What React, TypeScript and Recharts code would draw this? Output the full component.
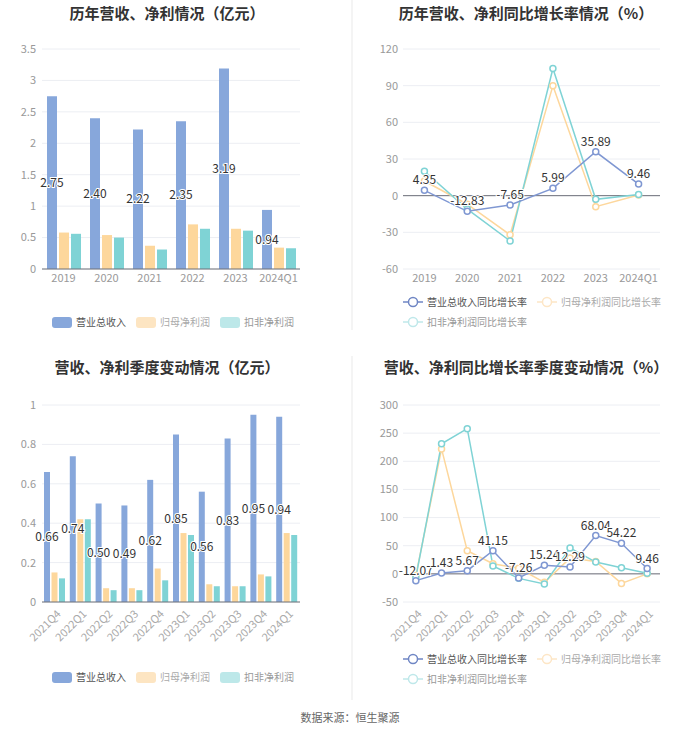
import React from "react";
import {
  BarChart,
  Bar,
  LineChart,
  Line,
  XAxis,
  YAxis,
  CartesianGrid,
  ReferenceLine,
  LabelList,
} from "recharts";

// annual figures (亿元 / %)
const years = ["2019", "2020", "2021", "2022", "2023", "2024Q1"];
const yearRevenue = [2.75, 2.4, 2.22, 2.35, 3.19, 0.94];
const yearNetProfit = [0.58, 0.54, 0.37, 0.71, 0.64, 0.34];
const yearDeducted = [0.56, 0.5, 0.31, 0.64, 0.61, 0.33];
const yearRevenueGrowth = [4.35, -12.83, -7.65, 5.99, 35.89, 9.46];
const yearNetProfitGrowth = [12, -7, -32, 90, -9, 0.5];
const yearDeductedGrowth = [20, -11, -37, 104, -3, 1];

// quarterly figures
const quarters = ["2021Q4", "2022Q1", "2022Q2", "2022Q3", "2022Q4", "2023Q1", "2023Q2", "2023Q3", "2023Q4", "2024Q1"];
const qRevenue = [0.66, 0.74, 0.5, 0.49, 0.62, 0.85, 0.56, 0.83, 0.95, 0.94];
const qNetProfit = [0.15, 0.42, 0.07, 0.07, 0.17, 0.35, 0.09, 0.08, 0.14, 0.35];
const qDeducted = [0.12, 0.42, 0.06, 0.06, 0.11, 0.34, 0.08, 0.08, 0.13, 0.34];
const qRevenueGrowth = [-12.07, 1.43, 5.67, 41.15, -7.26, 15.24, 12.29, 68.04, 54.22, 9.46];
const qNetProfitGrowth = [-3, 222, 41, 18, 10, -15, 28, 22, -17, 0];
const qDeductedGrowth = [-6, 231, 258, 14, -8, -18, 46, 21, 11, 1];

const yearTicks = [0, 0.5, 1, 1.5, 2, 2.5, 3, 3.5];
const yearGrowthTicks = [-60, -30, 0, 30, 60, 90, 120];
const qTicks = [0, 0.2, 0.4, 0.6, 0.8, 1];
const qGrowthTicks = [-50, 0, 50, 100, 150, 200, 250, 300];

const FONT = '"Noto Sans CJK SC", "Noto Sans", sans-serif';
const BLUE = "#87a7db";
const ORANGE = "#fdd79c";
const TEAL = "#7fd3d5";
const LINE_BLUE = "#7f97d2";
const AXIS = "#6e7079";
const TICK = { fill: "#999", fontSize: 11 };

const yearBars = years.map((name, i) => ({
  name,
  rev: yearRevenue[i],
  net: yearNetProfit[i],
  ded: yearDeducted[i],
}));
const yearLines = years.map((name, i) => ({
  name,
  rev: yearRevenueGrowth[i],
  net: yearNetProfitGrowth[i],
  ded: yearDeductedGrowth[i],
}));
const qBars = quarters.map((name, i) => ({
  name,
  rev: qRevenue[i],
  net: qNetProfit[i],
  ded: qDeducted[i],
}));
const qLines = quarters.map((name, i) => ({
  name,
  rev: qRevenueGrowth[i],
  net: qNetProfitGrowth[i],
  ded: qDeductedGrowth[i],
}));

const fmt2 = (v: any) => Number(v).toFixed(2);

const RotTick = ({ x, y, payload }: any) => (
  <g transform={`translate(${x + 4},${y + 5}) rotate(-45)`}>
    <text textAnchor="end" dy="0.35em" fill="#aaa" fontSize={11}>
      {payload.value}
    </text>
  </g>
);

const Title = ({ text, cx, cy }: { text: string; cx: number; cy: number }) => (
  <div
    style={{
      position: "absolute",
      left: cx - 175,
      top: cy - 11,
      width: 350,
      textAlign: "center",
      fontSize: 15,
      fontWeight: 700,
      color: "#333",
      lineHeight: "22px",
    }}
  >
    {text}
  </div>
);

const BarLegend = ({ left, top }: { left: number; top: number }) => {
  const items = [
    { label: "营业总收入", color: BLUE, text: "#555" },
    { label: "归母净利润", color: "#fde5c2", text: "#aaa" },
    { label: "扣非净利润", color: "#bde8e9", text: "#999" },
  ];
  return (
    <div style={{ position: "absolute", left, top, display: "flex", fontSize: 10, lineHeight: "14px" }}>
      {items.map((it) => (
        <div key={it.label} style={{ display: "flex", alignItems: "center", marginRight: 10 }}>
          <span style={{ width: 20, height: 11, borderRadius: 3, background: it.color, marginRight: 4 }} />
          <span style={{ color: it.text }}>{it.label}</span>
        </div>
      ))}
    </div>
  );
};

const LineIcon = ({ color }: { color: string }) => (
  <svg width={20} height={12} style={{ marginRight: 4 }}>
    <line x1={0} y1={6} x2={20} y2={6} stroke={color} strokeWidth={1.5} />
    <circle cx={10} cy={6} r={4.5} fill="#fff" stroke={color} strokeWidth={1.5} />
  </svg>
);

const LineLegend = ({ left, top }: { left: number; top: number }) => {
  const row = (label: string, color: string, text: string) => (
    <div style={{ display: "flex", alignItems: "center", marginRight: 10 }}>
      <LineIcon color={color} />
      <span style={{ color: text }}>{label}</span>
    </div>
  );
  return (
    <div style={{ position: "absolute", left, top, fontSize: 10, lineHeight: "14px" }}>
      <div style={{ display: "flex" }}>
        {row("营业总收入同比增长率", "#6f86c4", "#555")}
        {row("归母净利润同比增长率", "#fde6c6", "#aaa")}
      </div>
      <div style={{ display: "flex", marginTop: 6 }}>{row("扣非净利润同比增长率", "#bfe8ea", "#999")}</div>
    </div>
  );
};

const labelStyle = { paintOrder: "stroke" as any };

function GroupBars({ data, width, height, margin, ticks, domain, rotate, barSize, barGap }: any) {
  return (
    <BarChart width={width} height={height} data={data} margin={margin} barSize={barSize} barGap={barGap}>
      <CartesianGrid vertical={false} stroke="#eceef3" />
      <XAxis
        dataKey="name"
        axisLine={{ stroke: AXIS }}
        tickLine={false}
        tickSize={3}
        tickMargin={2}
        interval={0}
        height={rotate ? 55 : 30}
        tick={rotate ? <RotTick /> : TICK}
      />
      <YAxis
        domain={domain}
        ticks={ticks}
        axisLine={false}
        tickLine={false}
        tickSize={4}
        tickMargin={2}
        width={42}
        tick={TICK}
      />
      <Bar dataKey="rev" fill={BLUE} isAnimationActive={false}>
        <LabelList
          dataKey="rev"
          position="center"
          formatter={fmt2}
          fill="#333"
          fontSize={12}
          stroke="#fff"
          strokeWidth={2}
          style={labelStyle}
        />
      </Bar>
      <Bar dataKey="net" fill={ORANGE} isAnimationActive={false} />
      <Bar dataKey="ded" fill={TEAL} isAnimationActive={false} />
    </BarChart>
  );
}

function GrowthLines({ data, width, height, margin, ticks, domain, rotate }: any) {
  const dot = (c: string) => ({ r: 3, fill: "#fff", stroke: c, strokeWidth: 1.5 });
  // half a category of padding on each side, like a boundary gap
  const plotW = width - 53 - margin.right;
  const pad = plotW / (data.length * 2);
  return (
    <LineChart width={width} height={height} data={data} margin={margin}>
      <CartesianGrid vertical={false} stroke="#eceef3" />
      <XAxis
        dataKey="name"
        axisLine={false}
        tickLine={false}
        tickSize={3}
        tickMargin={2}
        interval={0}
        padding={{ left: pad, right: pad }}
        height={rotate ? 55 : 30}
        tick={rotate ? <RotTick /> : TICK}
      />
      <YAxis
        domain={domain}
        ticks={ticks}
        axisLine={false}
        tickLine={false}
        tickSize={3}
        tickMargin={2}
        width={53}
        tick={TICK}
      />
      <ReferenceLine y={0} stroke={AXIS} />
      <Line dataKey="net" stroke={ORANGE} strokeWidth={1.5} dot={dot(ORANGE)} isAnimationActive={false} />
      <Line dataKey="ded" stroke={TEAL} strokeWidth={1.5} dot={dot(TEAL)} isAnimationActive={false} />
      <Line dataKey="rev" stroke={LINE_BLUE} strokeWidth={1.5} dot={dot(LINE_BLUE)} isAnimationActive={false}>
        <LabelList
          dataKey="rev"
          position="top"
          offset={6}
          formatter={fmt2}
          fill="#333"
          fontSize={12}
          stroke="#fff"
          strokeWidth={2}
          style={labelStyle}
        />
      </Line>
    </LineChart>
  );
}

export default function App() {
  return (
    <div
      style={{
        position: "absolute",
        left: 0,
        top: 0,
        width: 700,
        height: 734,
        background: "#fff",
        fontFamily: FONT,
        overflow: "hidden",
      }}
    >
      <div style={{ position: "absolute", left: 351, top: 0, width: 2, height: 330, background: "#f4f4f4" }} />
      <div style={{ position: "absolute", left: 351, top: 356, width: 2, height: 344, background: "#f4f4f4" }} />

      <Title text="历年营收、净利情况（亿元）" cx={167} cy={13} />
      <Title text="历年营收、净利同比增长率情况（%）" cx={526} cy={13} />
      <Title text="营收、净利季度变动情况（亿元）" cx={167} cy={367} />
      <Title text="营收、净利同比增长率季度变动情况（%）" cx={526} cy={367} />

      <div style={{ position: "absolute", left: 0, top: 0 }}>
        <GroupBars
          data={yearBars}
          width={350}
          height={340}
          margin={{ top: 49, right: 50, left: 0, bottom: 41 }}
          ticks={yearTicks}
          domain={[0, 3.5]}
          barSize={10}
          barGap={2}
        />
      </div>
      <div style={{ position: "absolute", left: 350, top: 0 }}>
        <GrowthLines
          data={yearLines}
          width={350}
          height={340}
          margin={{ top: 49, right: 40, left: 0, bottom: 41 }}
          ticks={yearGrowthTicks}
          domain={[-60, 120]}
        />
      </div>
      <div style={{ position: "absolute", left: 0, top: 340 }}>
        <GroupBars
          data={qBars}
          width={350}
          height={360}
          margin={{ top: 65, right: 50, left: 0, bottom: 43 }}
          ticks={qTicks}
          domain={[0, 1]}
          rotate
          barSize={6}
          barGap={1.5}
        />
      </div>
      <div style={{ position: "absolute", left: 350, top: 340 }}>
        <GrowthLines
          data={qLines}
          width={350}
          height={360}
          margin={{ top: 65, right: 40, left: 0, bottom: 43 }}
          ticks={qGrowthTicks}
          domain={[-50, 300]}
          rotate
        />
      </div>

      <BarLegend left={52} top={315} />
      <LineLegend left={403} top={295} />
      <BarLegend left={52} top={670} />
      <LineLegend left={403} top={652} />

      <div
        style={{
          position: "absolute",
          left: 0,
          top: 709,
          width: 700,
          textAlign: "center",
          fontSize: 11,
          color: "#666",
        }}
      >
        数据来源：恒生聚源
      </div>
    </div>
  );
}
